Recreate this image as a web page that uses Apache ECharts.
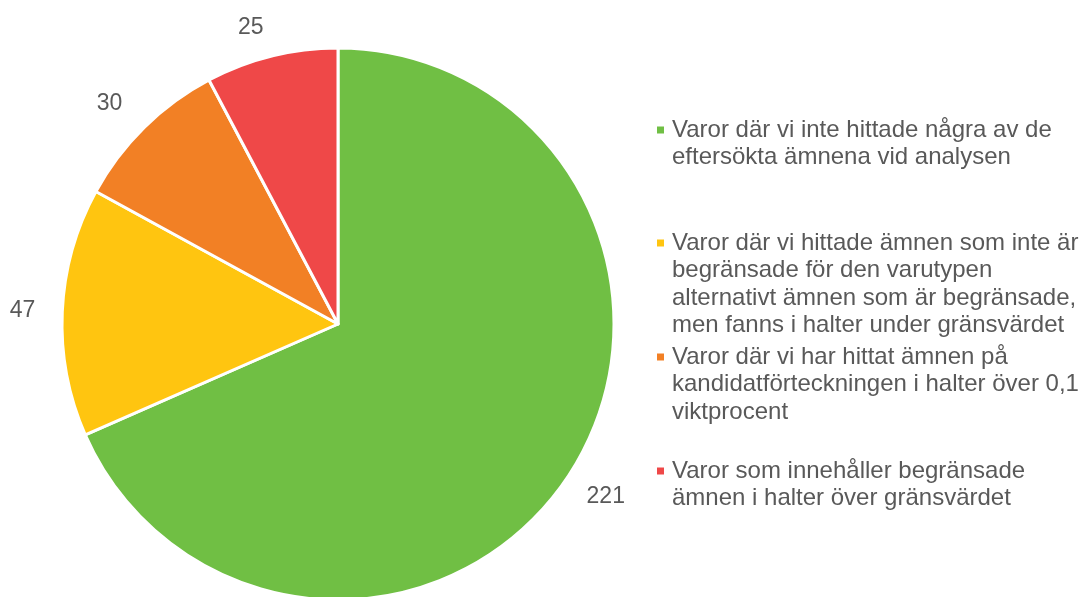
<!DOCTYPE html>
<html>
<head>
<meta charset="utf-8">
<script src="https://cdn.jsdelivr.net/npm/echarts@6/dist/echarts.min.js"></script>
<style>
  html, body { margin: 0; padding: 0; background: #fff; }
  #chart { width: 1083px; height: 597px; }
</style>
</head>
<body>
<div id="chart"></div>
<script>
// kategorier och antal varor
const categories = [
    'Varor där vi inte hittade några av de eftersökta ämnena vid analysen',
    'Varor där vi hittade ämnen som inte är begränsade för den varutypen alternativt ämnen som är begränsade, men fanns i halter under gränsvärdet',
    'Varor där vi har hittat ämnen på kandidatförteckningen i halter över 0,1 viktprocent',
    'Varor som innehåller begränsade ämnen i halter över gränsvärdet'
]
// radbrytningar som i originalet
const legendLines = [
    ['Varor där vi inte hittade några av de', 'eftersökta ämnena vid analysen'],
    ['Varor där vi hittade ämnen som inte är', 'begränsade för den varutypen', 'alternativt ämnen som är begränsade,', 'men fanns i halter under gränsvärdet'],
    ['Varor där vi har hittat ämnen på', 'kandidatförteckningen i halter över 0,1', 'viktprocent'],
    ['Varor som innehåller begränsade', 'ämnen i halter över gränsvärdet']
]
const values = [221, 47, 30, 25]
const colors = ['#70bf44', '#ffc510', '#f28025', '#ef4848']

// etikettavstånd per tårtbit (Excel placerar dem lite olika)
const labelLen = [40, 22, 34, 29]
const labelLen2 = [-21, 0, -7, -4]

const lineH = 27.5
const firstLineY = [130, 243, 357, 471]

const chart = echarts.init(document.getElementById('chart'))

// en legend per post så att avstånden blir som i originalet
const legends = categories.map((name, i) => {
    const n = legendLines[i].length
    return {
        data: [name],
        orient: 'vertical',
        left: 657,
        top: firstLineY[i] - (2 * n - 1) * lineH / 2,
        padding: 0,
        icon: 'rect',
        itemWidth: 7,
        itemHeight: 7,
        itemStyle: { borderWidth: 0 },
        // tomma rader ovanför så att ikonen hamnar vid första raden
        formatter: () => '\n'.repeat(n - 1) + legendLines[i].join('\n'),
        textStyle: {
            color: '#595959',
            fontSize: 24,
            fontFamily: 'Liberation Sans, Arial, sans-serif',
            lineHeight: lineH,
            padding: [0, 0, 0, 3]
        }
    }
})

chart.setOption({
    animation: false,
    color: colors,
    legend: legends,
    series: [
        {
            type: 'pie',
            center: [338, 324],
            radius: 276,
            startAngle: 90,
            clockwise: true,
            avoidLabelOverlap: false,
            itemStyle: {
                borderColor: '#fff',
                borderWidth: 3
            },
            label: {
                show: true,
                position: 'outside',
                formatter: '{c}',
                color: '#595959',
                fontSize: 23,
                fontFamily: 'Liberation Sans, Arial, sans-serif'
            },
            labelLine: { show: false },
            data: categories.map((name, i) => ({
                name: name,
                value: values[i],
                labelLine: { show: false, length: labelLen[i], length2: labelLen2[i] }
            }))
        }
    ]
})
</script>
</body>
</html>
